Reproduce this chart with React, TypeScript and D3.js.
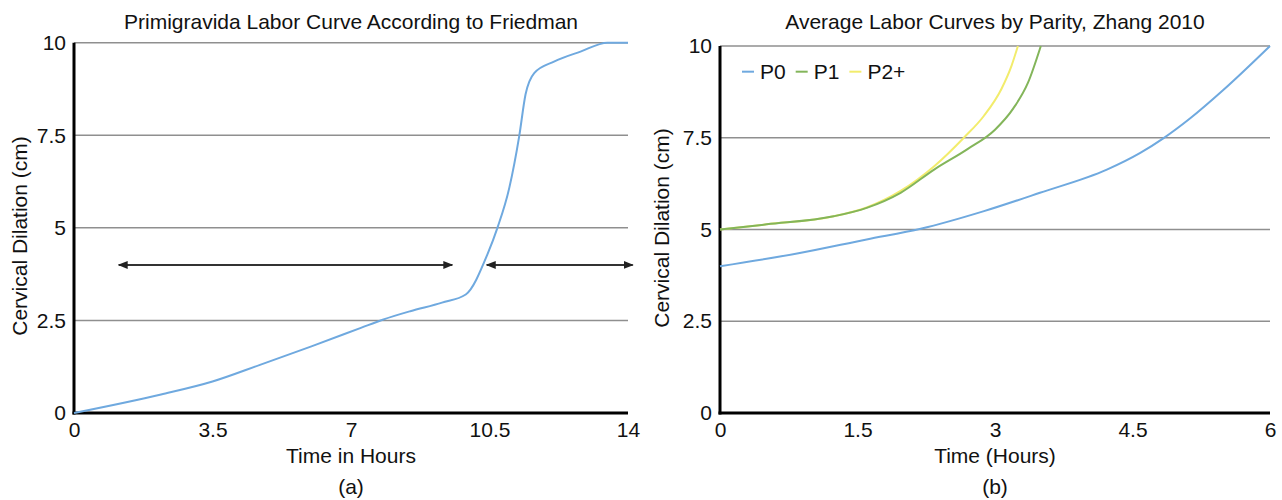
import React, { useRef, useEffect } from "react";
import * as d3 from "d3";

// Friedman primigravida curve (hours, cm)
const friedmanHours = [0, 2.2, 3.5, 4.7, 6, 7.25, 7.8, 8.5, 9.3, 9.9, 10.45, 10.7, 11, 11.25, 11.41, 11.63, 12.13, 12.8, 13.48, 14];
const friedmanCm = [0, 0.5, 0.85, 1.3, 1.8, 2.3, 2.52, 2.75, 2.98, 3.2, 4.29, 5, 6.08, 7.47, 8.6, 9.18, 9.49, 9.76, 10, 10];

// phase arrows drawn at 4 cm (from hour, to hour)
const arrowFrom = [1.13, 10.43];
const arrowTo = [9.56, 14.12];
const arrowCm = 4;

// Zhang 2010 curves by parity
const p0Hours = [0, 0.87, 1.6, 2.19, 2.88, 3.49, 4.22, 4.58, 4.84, 5.13, 5.49, 6];
const p0Cm = [4, 4.36, 4.73, 5.02, 5.5, 6, 6.63, 7.08, 7.49, 8.03, 8.8, 10];
const p1Hours = [0, 0.51, 1.24, 1.6, 1.97, 2.34, 2.7, 3.0, 3.2, 3.36, 3.5];
const p1Cm = [5, 5.14, 5.36, 5.59, 6, 6.64, 7.19, 7.72, 8.3, 9.0, 10];
const p2Hours = [0, 0.51, 1.24, 1.6, 1.97, 2.34, 2.66, 2.88, 3.07, 3.18, 3.25];
const p2Cm = [5, 5.14, 5.36, 5.6, 6.05, 6.73, 7.5, 8.1, 8.83, 9.46, 10];

const seriesNames = ["P0", "P1", "P2+"];
const seriesColors = ["#6fa9df", "#83b55a", "#f2ec6c"];

const yTicks = [0, 2.5, 5, 7.5, 10];
const leftXTicks = [0, 3.5, 7, 10.5, 14];
const rightXTicks = [0, 1.5, 3, 4.5, 6];

const FONT = "'Liberation Sans', Arial, Helvetica, sans-serif";
const FS = 21;

const App = () => {
  const svgRef = useRef(null);

  useEffect(() => {
    document.body.style.margin = "0";
    const svg = d3.select(svgRef.current);
    svg.selectAll("*").remove();
    svg.attr("width", 1282).attr("height", 500).style("font-family", FONT);

    const defs = svg.append("defs");
    defs
      .append("marker")
      .attr("id", "head")
      .attr("viewBox", "0 0 10 10")
      .attr("refX", 9)
      .attr("refY", 5)
      .attr("markerWidth", 10)
      .attr("markerHeight", 10)
      .attr("markerUnits", "userSpaceOnUse")
      .attr("orient", "auto-start-reverse")
      .append("path")
      .attr("d", "M0,1 L10,5 L0,9 Z")
      .attr("fill", "#222");

    const panel = (opts) => {
      const { x, y, xTicks, xLabel, yLabelX, yLabelY, title, titleX, caption } = opts;
      const g = svg.append("g");

      // grid lines
      g.selectAll(".grid")
        .data(yTicks.filter((d) => d > 0))
        .enter()
        .append("line")
        .attr("x1", x.range()[0])
        .attr("x2", x.range()[1])
        .attr("y1", (d) => y(d))
        .attr("y2", (d) => y(d))
        .attr("stroke", "#8f8f8f")
        .attr("stroke-width", 1.5);

      const yAxis = g
        .append("g")
        .attr("transform", `translate(${x.range()[0]},0)`)
        .call(d3.axisLeft(y).tickValues(yTicks).tickSize(0).tickPadding(8).tickFormat((d) => String(d)));
      yAxis.select(".domain").remove();
      yAxis.selectAll("text").attr("font-size", FS).attr("font-family", FONT).attr("fill", "#111");

      const xAxis = g
        .append("g")
        .attr("transform", `translate(0,${y.range()[0]})`)
        .call(d3.axisBottom(x).tickValues(xTicks).tickSize(0).tickPadding(9).tickFormat((d) => String(d)));
      xAxis.select(".domain").remove();
      xAxis.selectAll("text").attr("font-size", FS).attr("font-family", FONT).attr("fill", "#111");

      // axis lines
      g.append("line")
        .attr("x1", x.range()[0])
        .attr("x2", x.range()[0])
        .attr("y1", y.range()[1])
        .attr("y2", y.range()[0] + 1.5)
        .attr("stroke", "#000")
        .attr("stroke-width", 3);
      g.append("line")
        .attr("x1", x.range()[0] - 1.5)
        .attr("x2", x.range()[1])
        .attr("y1", y.range()[0])
        .attr("y2", y.range()[0])
        .attr("stroke", "#000")
        .attr("stroke-width", 3);

      g.append("text")
        .attr("x", titleX)
        .attr("y", 29)
        .attr("text-anchor", "middle")
        .attr("font-size", FS)
        .attr("fill", "#111")
        .text(title);

      g.append("text")
        .attr("transform", `translate(${yLabelX},${yLabelY}) rotate(-90)`)
        .attr("text-anchor", "middle")
        .attr("dy", "0.35em")
        .attr("font-size", FS)
        .attr("fill", "#111")
        .text("Cervical Dilation (cm)");

      const midX = (x.range()[0] + x.range()[1]) / 2;
      g.append("text")
        .attr("x", midX)
        .attr("y", 463)
        .attr("text-anchor", "middle")
        .attr("font-size", FS)
        .attr("fill", "#111")
        .text(xLabel);
      g.append("text")
        .attr("x", midX)
        .attr("y", 494)
        .attr("text-anchor", "middle")
        .attr("font-size", FS)
        .attr("fill", "#111")
        .text(caption);
      return g;
    };

    // ---- left panel: Friedman
    const xL = d3.scaleLinear().domain([0, 14]).range([74, 628]);
    const yL = d3.scaleLinear().domain([0, 10]).range([413, 42.7]);
    const gL = panel({
      x: xL,
      y: yL,
      xTicks: leftXTicks,
      xLabel: "Time in Hours",
      yLabelX: 20,
      yLabelY: 236,
      title: "Primigravida Labor Curve According to Friedman",
      titleX: 351,
      caption: "(a)",
    });

    const lineL = d3
      .line()
      .x((d) => xL(d[0]))
      .y((d) => yL(d[1]))
      .curve(d3.curveMonotoneX);
    gL.append("path")
      .datum(d3.zip(friedmanHours, friedmanCm))
      .attr("d", lineL)
      .attr("fill", "none")
      .attr("stroke", seriesColors[0])
      .attr("stroke-width", 2);

    gL.selectAll(".arrow")
      .data(d3.zip(arrowFrom, arrowTo))
      .enter()
      .append("line")
      .attr("x1", (d) => xL(d[0]))
      .attr("x2", (d) => xL(d[1]))
      .attr("y1", yL(arrowCm))
      .attr("y2", yL(arrowCm))
      .attr("stroke", "#333")
      .attr("stroke-width", 2)
      .attr("marker-start", "url(#head)")
      .attr("marker-end", "url(#head)");

    // ---- right panel: Zhang
    const xR = d3.scaleLinear().domain([0, 6]).range([720, 1270]);
    const yR = d3.scaleLinear().domain([0, 10]).range([413, 46]);
    const gR = panel({
      x: xR,
      y: yR,
      xTicks: rightXTicks,
      xLabel: "Time (Hours)",
      yLabelX: 662,
      yLabelY: 228,
      title: "Average Labor Curves by Parity, Zhang 2010",
      titleX: 995,
      caption: "(b)",
    });

    const lineR = d3
      .line()
      .x((d) => xR(d[0]))
      .y((d) => yR(d[1]))
      .curve(d3.curveMonotoneX);
    const series = [
      d3.zip(p0Hours, p0Cm),
      d3.zip(p1Hours, p1Cm),
      d3.zip(p2Hours, p2Cm),
    ];
    // draw P2+ first so P1 sits on top where they overlap
    [2, 1, 0].forEach((i) => {
      gR.append("path")
        .datum(series[i])
        .attr("d", lineR)
        .attr("fill", "none")
        .attr("stroke", seriesColors[i])
        .attr("stroke-width", 2);
    });

    // legend
    const legend = gR.append("g").attr("transform", `translate(742,${yR(9.3)})`);
    let lx = 0;
    seriesNames.forEach((name, i) => {
      legend
        .append("line")
        .attr("x1", lx)
        .attr("x2", lx + 12)
        .attr("y1", 0)
        .attr("y2", 0)
        .attr("stroke", seriesColors[i])
        .attr("stroke-width", 2);
      const t = legend
        .append("text")
        .attr("x", lx + 18)
        .attr("y", 0)
        .attr("dy", "0.35em")
        .attr("font-size", FS)
        .attr("fill", "#111")
        .text(name);
      lx += 18 + t.node().getComputedTextLength() + 10;
    });
  }, []);

  return <svg ref={svgRef}></svg>;
};

export default App;
